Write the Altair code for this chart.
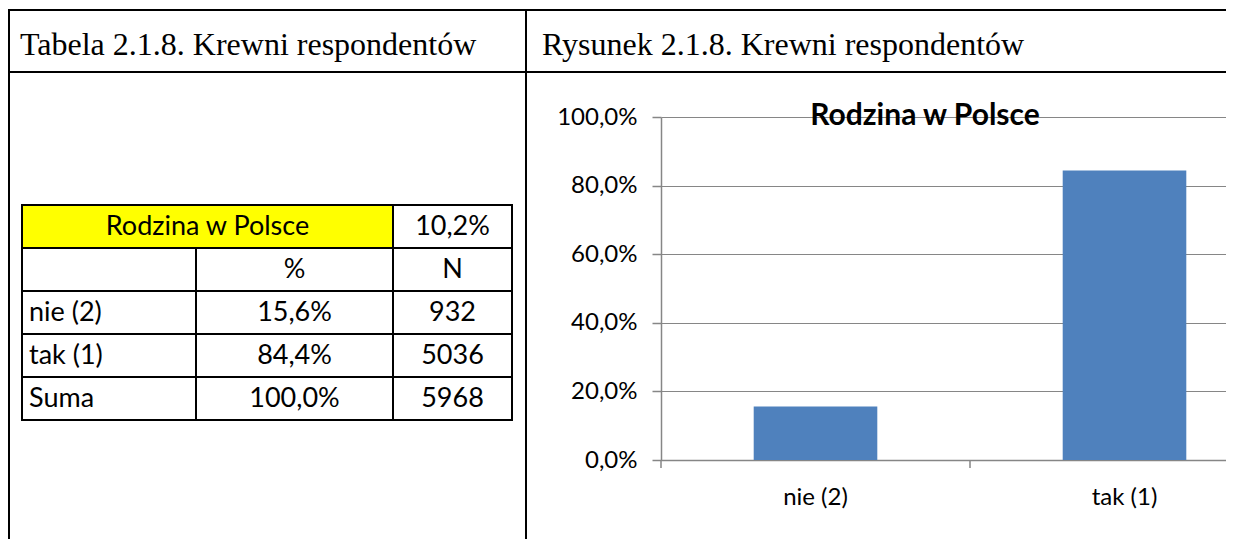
import altair as alt
import pandas as pd

# ---------------- data ----------------
categories = ["nie (2)", "tak (1)"]
percent = [0.156, 0.844]
counts = [932, 5036]
sum_label = "Suma"
sum_percent = 1.0
sum_count = 5968
share_label = "10,2%"
table_header = "Rodzina w Polsce"
col_headers = ["%", "N"]
chart_title = "Rodzina w Polsce"
caption_left = "Tabela 2.1.8. Krewni respondentów"
caption_right = "Rysunek 2.1.8. Krewni respondentów"
y_ticks = [0.0, 0.2, 0.4, 0.6, 0.8, 1.0]
category_index = [0, 1, 2]  # band boundaries (for x-axis ticks)

# ---------------- styles / geometry (image pixels) ----------------
SANS = "Lato"
SERIF = "Liberation Serif"
BAR = "#4F81BD"
GRID = "#868686"
OX, OY = 661, 117          # plot-area origin in image pixels
TOTAL_W, TOTAL_H = 1218, 531
PW = TOTAL_W - (OX - 8)    # visible plot width
PH = 343
XRANGE = 618               # two category bands of 309 px


def fx(v):
    return v - OX


def fy(v):
    return v - OY


def pct(v):
    return f"{v * 100:.1f}%".replace(".", ",")


# frame of the document table
frame_lines = pd.DataFrame([
    dict(x=fx(9), x2=fx(1240), y=fy(10), y2=fy(10)),
    dict(x=fx(9), x2=fx(1240), y=fy(72), y2=fy(72)),
    dict(x=fx(9), x2=fx(9), y=fy(9), y2=fy(560)),
    dict(x=fx(526), x2=fx(526), y=fy(9), y2=fy(560)),
])

# inner data table
TX = [22, 196, 393, 512]
TY = [205, 248, 291, 334, 377, 420]
tab_lines = [
    dict(x=fx(TX[0] - 1), x2=fx(TX[3] + 1), y=fy(t), y2=fy(t)) for t in TY
] + [
    dict(x=fx(TX[0]), x2=fx(TX[0]), y=fy(TY[0]), y2=fy(TY[-1])),
    dict(x=fx(TX[3]), x2=fx(TX[3]), y=fy(TY[0]), y2=fy(TY[-1])),
    dict(x=fx(TX[2]), x2=fx(TX[2]), y=fy(TY[0]), y2=fy(TY[-1])),
    dict(x=fx(TX[1]), x2=fx(TX[1]), y=fy(TY[1]), y2=fy(TY[-1])),
]
tab_lines = pd.DataFrame(tab_lines)

yellow = pd.DataFrame([dict(x=fx(TX[0]), x2=fx(TX[2]), y=fy(TY[0]), y2=fy(TY[1]))])


def rowmid(i):
    return fy((TY[i] + TY[i + 1]) / 2)


def colmid(j):
    return fx((TX[j] + TX[j + 1]) / 2)


center_cells = [
    dict(x=fx((TX[0] + TX[2]) / 2), y=rowmid(0), t=table_header),
    dict(x=colmid(2), y=rowmid(0), t=share_label),
    dict(x=colmid(1), y=rowmid(1), t=col_headers[0]),
    dict(x=colmid(2), y=rowmid(1), t=col_headers[1]),
]
left_cells = []
row_labels = categories + [sum_label]
row_pcts = percent + [sum_percent]
row_ns = counts + [sum_count]
for i, (lab, p, n) in enumerate(zip(row_labels, row_pcts, row_ns)):
    left_cells.append(dict(x=fx(TX[0] + 7), y=rowmid(i + 2), t=lab))
    center_cells.append(dict(x=colmid(1), y=rowmid(i + 2), t=pct(p)))
    center_cells.append(dict(x=colmid(2), y=rowmid(i + 2), t=str(n)))
center_cells = pd.DataFrame(center_cells)
left_cells = pd.DataFrame(left_cells)

captions = pd.DataFrame([
    dict(x=fx(20), y=fy(55), t=caption_left),
    dict(x=fx(542), y=fy(55), t=caption_right),
])
title_df = pd.DataFrame([dict(x=fx(925), y=fy(125), t=chart_title)])

bar_df = pd.DataFrame({"cat": categories, "pct": percent})
bound_df = pd.DataFrame({"b": category_index})


def px_enc(chart, two=True):
    enc = dict(
        x=alt.X("x:Q", scale=None, axis=None),
        y=alt.Y("y:Q", scale=None, axis=None),
    )
    if two:
        enc["x2"] = "x2:Q"
        enc["y2"] = "y2:Q"
    return chart.encode(**enc)


frame = px_enc(alt.Chart(frame_lines).mark_rule(color="black", strokeWidth=2))
yellow_rect = px_enc(alt.Chart(yellow).mark_rect(color="#FFFF00"))
table = px_enc(alt.Chart(tab_lines).mark_rule(color="black", strokeWidth=2))
cell_c = px_enc(alt.Chart(center_cells).mark_text(
    font=SANS, fontSize=27, align="center", baseline="middle", color="black"), two=False
).encode(text="t:N")
cell_l = px_enc(alt.Chart(left_cells).mark_text(
    font=SANS, fontSize=27, align="left", baseline="middle", color="black"), two=False
).encode(text="t:N")
caps = px_enc(alt.Chart(captions).mark_text(
    font=SERIF, fontSize=32, align="left", baseline="alphabetic", color="black"), two=False
).encode(text="t:N")
title = px_enc(alt.Chart(title_df).mark_text(
    font=SANS, fontSize=30, fontWeight="bold", align="center", baseline="alphabetic",
    color="black"), two=False
).encode(text="t:N")

bars = alt.Chart(bar_df).mark_bar(color=BAR).encode(
    x=alt.X(
        "cat:N", sort=categories,
        scale=alt.Scale(domain=categories, range=[0, XRANGE], paddingInner=0.6, paddingOuter=0.3),
        axis=alt.Axis(title=None, labelAngle=0, ticks=False, domainColor=GRID, domainWidth=1.5,
                      labelFont=SANS, labelFontSize=24, labelColor="black", labelPadding=25,
                      grid=False),
    ),
    y=alt.Y(
        "pct:Q",
        scale=alt.Scale(domain=[0, 1], nice=False, zero=True),
        axis=alt.Axis(title=None, values=y_ticks,
                      labelExpr="replace(format(datum.value, '.1%'), '.', ',')",
                      tickSize=9, tickColor=GRID, tickWidth=1.5, domainColor=GRID,
                      domainWidth=1.5, grid=True, gridColor=GRID, gridWidth=1.2,
                      labelFont=SANS, labelFontSize=24, labelColor="black",
                      labelPadding=15),
    ),
)

bticks = alt.Chart(bound_df).mark_rule(color=GRID, strokeWidth=1.5).encode(
    x=alt.X("b:Q", scale=alt.Scale(domain=[0, 2], range=[0, XRANGE]), axis=None),
    y=alt.value(PH),
    y2=alt.value(PH + 8),
)

chart = alt.layer(
    frame, yellow_rect, table, cell_c, cell_l, caps, bars, bticks, title
).resolve_scale(x="independent", y="independent").properties(
    width=PW, height=PH,
    autosize="none",
    padding={"left": OX - 8, "top": OY - 8, "right": 0, "bottom": TOTAL_H - (OY - 8) - PH},
    background="white",
).configure_view(stroke=None)

chart.save("out.html", embed_options={"renderer": "svg", "actions": False})
